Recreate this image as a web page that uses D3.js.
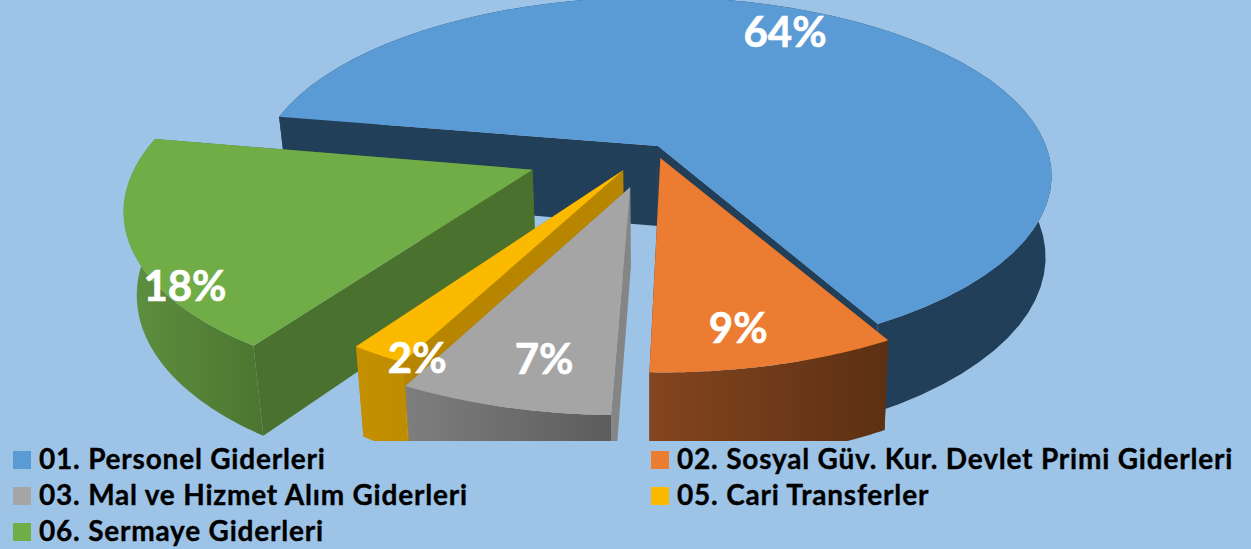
<!DOCTYPE html>
<meta charset="utf-8">
<script src="https://d3js.org/d3.v7.min.js"></script>
<style>
html, body { margin: 0; padding: 0; background: #9DC3E6; overflow: hidden; }
text { font-family: Lato, "Open Sans", sans-serif; font-weight: 700; }
</style>
<div id="chart"></div>
<script>
// data
var categories = ["01. Personel Giderleri", "02. Sosyal Güv. Kur. Devlet Primi Giderleri",
  "03. Mal ve Hizmet Alım Giderleri", "05. Cari Transferler", "06. Sermaye Giderleri"];
var values = [64.1, 8.5, 7.08, 1.97, 18.35];
var labels = ["64%", "9%", "7%", "2%", "18%"];

// styling of the slices
var topColors = ["#5B9BD5", "#EB7C31", "#A5A5A5", "#FBBA00", "#70AD47"];
var cutColors = ["#223F59", "#5F3113", "#858585", "#B78500", "#4B712F"];
var wallLeft = ["#223F59", "#84451F", "#7E7E7E", "#C49000", "#5F9140"];
var wallRight = ["#223F59", "#5C3013", "#5C5C5C", "#BE8C00", "#4B7530"];
var explode = [0, 0.07, 0.235, 0.158, 0.34];
var nudge = [0, -0.011, -0.011, -0.007, 0];
var rimShift = [-0.01, 0, -0.003, 0, 0.006];
var labelSpots = [[0.364, 0.736], [0.174, -0.889], [-0.241, -1.015], [-0.51, -1.01], [-1.063, -0.709]];
var drawOrder = [0, 4, 3, 2, 1];

var width = 1251, height = 549, clipBottom = 441;
var persp = 0.168;

var svg = d3.select("#chart").append("svg")
  .attr("width", width).attr("height", height)
  .style("display", "block");

svg.append("defs").append("clipPath").attr("id", "plot")
  .append("rect").attr("width", width).attr("height", clipBottom);

var x = d3.scaleLinear().domain([-1, 1]).range([658 - 392, 658 + 392]);
var y = d3.scaleLinear().domain([-1, 1]).range([146 + 174, 146 - 174]);
// the bottom face of the pie, relative to the top face
var bottomX = d3.scaleLinear().domain([0, 650, 1250]).range([16.25, 650, 1241]);
var bottomY = d3.scaleLinear().domain([146, 1146]).range([226, 1276]);

function project(u, v) {
  var w = 1 + persp * v;
  return [x(u / w), y(v / w)];
}
function lower(p) { return [bottomX(p[0]), bottomY(p[1])]; }

var pie = d3.pie().sort(null)
  .startAngle(280 * Math.PI / 180)
  .endAngle((280 + 360) * Math.PI / 180);
var slices = pie(values);
var line = d3.line();

var plot = svg.append("g").attr("clip-path", "url(#plot)");
var defs = svg.select("defs");

drawOrder.forEach(function(i) {
  var s = slices[i];
  var mid = (s.startAngle + s.endAngle) / 2;
  var ou = explode[i] * Math.sin(mid) + nudge[i], ov = explode[i] * Math.cos(mid);
  var apex = project(ou, ov);
  var steps = d3.range(0, 61).map(function(k) {
    return s.startAngle + (s.endAngle - s.startAngle) * k / 60;
  });
  var rim = steps.map(function(a) { return project(ou + rimShift[i] + Math.sin(a), ov + Math.cos(a)); });
  var rimLow = rim.map(lower);
  var first = rim[0], last = rim[rim.length - 1];

  var grad = defs.append("linearGradient").attr("id", "wall" + i);
  grad.append("stop").attr("offset", 0).attr("stop-color", wallLeft[i]);
  grad.append("stop").attr("offset", 1).attr("stop-color", wallRight[i]);

  var g = plot.append("g");
  // cut faces
  g.append("path").attr("fill", cutColors[i])
    .attr("d", line([apex, first, lower(first), lower(apex)]) + "Z");
  g.append("path").attr("fill", cutColors[i])
    .attr("d", line([apex, last, lower(last), lower(apex)]) + "Z");
  // outer wall
  g.append("path").attr("fill", "url(#wall" + i + ")")
    .attr("d", line(rim.concat(rimLow.slice().reverse())) + "Z");
  // top face
  g.append("path").attr("fill", topColors[i])
    .attr("d", line([apex].concat(rim)) + "Z");
});

// value labels
svg.append("g").selectAll("text").data(labels).enter().append("text")
  .attr("x", function(d, i) { return project(labelSpots[i][0], labelSpots[i][1])[0]; })
  .attr("y", function(d, i) { return project(labelSpots[i][0], labelSpots[i][1])[1]; })
  .attr("dy", "0.36em")
  .attr("text-anchor", "middle")
  .attr("font-size", 42)
  .attr("fill", "#fff")
  .attr("stroke", "#fff")
  .attr("stroke-width", 0.6)
  .text(function(d) { return d; });

// legend
var colOf = [0, 1, 0, 1, 0];
var rowOf = [0, 0, 1, 1, 2];
var colX = d3.scaleOrdinal().domain([0, 1]).range([13, 651]);
var rowY = d3.scaleLinear().domain([0, 2]).range([451, 523]);
var legend = svg.append("g").selectAll("g").data(categories).enter().append("g")
  .attr("transform", function(d, i) {
    return "translate(" + colX(colOf[i]) + "," + rowY(rowOf[i]) + ")";
  });
legend.append("rect").attr("width", 18).attr("height", 18)
  .attr("fill", function(d, i) { return topColors[i]; });
legend.append("text").attr("x", 26).attr("y", 18)
  .attr("font-size", 28)
  .attr("letter-spacing", 0.8)
  .attr("fill", "#000")
  .attr("stroke", "#000")
  .attr("stroke-width", 0.35)
  .text(function(d) { return d; });
</script>
